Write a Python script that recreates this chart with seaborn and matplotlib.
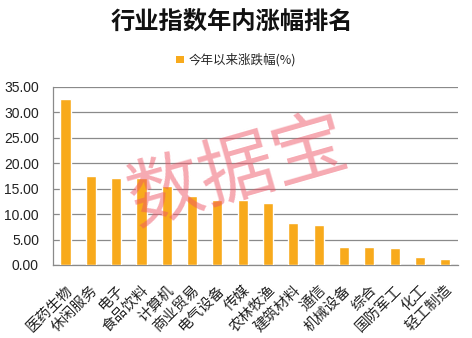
import matplotlib
matplotlib.use("Agg")
import matplotlib.pyplot as plt
import seaborn as sns
import pandas as pd
from matplotlib.patches import Patch

categories = ["医药生物", "休闲服务", "电子", "食品饮料", "计算机", "商业贸易", "电气设备", "传媒",
              "农林牧渔", "建筑材料", "通信", "机械设备", "综合", "国防军工", "化工", "轻工制造"]
values = [32.6, 17.5, 17.0, 17.0, 15.5, 13.6, 12.8, 12.8,
          12.2, 8.3, 7.9, 3.6, 3.6, 3.4, 1.6, 1.2]
series_name = "今年以来涨跌幅(%)"
yticks = [0, 5, 10, 15, 20, 25, 30, 35]

sns.set_theme(style="white")
plt.rcParams['font.family'] = ['Noto Sans CJK SC', 'DejaVu Sans']

df = pd.DataFrame({"cat": categories, "val": values})
bar_color = "#F8AA1C"

fig = plt.figure(figsize=(4.72, 3.38), dpi=100)
ax = fig.add_axes([0.112, 0.216, 0.858, 0.527])
sns.barplot(data=df, x="cat", y="val", color=bar_color, width=0.4,
            saturation=1, ax=ax, zorder=3)

ax.set_ylim(0, 35)
ax.set_xlim(-0.5, len(categories) - 0.5)
ax.set_yticks(yticks)
ax.set_yticklabels([f"{v:.2f}" for v in yticks], fontfamily="Liberation Sans", fontsize=10, color="#222222")
ax.yaxis.grid(True, color="#8a8a8a", linewidth=0.9, zorder=0)
ax.set_axisbelow(True)
ax.set_xlabel("")
ax.set_ylabel("")

for s in ["top", "right"]:
    ax.spines[s].set_visible(False)
for s in ["left", "bottom"]:
    ax.spines[s].set_color("#8a8a8a")
    ax.spines[s].set_linewidth(0.9)

ax.tick_params(axis="y", length=0, pad=10)
ax.set_xticks(range(len(categories)))
ax.set_xticklabels(categories, rotation=45, ha="right", rotation_mode="anchor",
                   fontsize=10.5, color="#222222")
ax.tick_params(axis="x", which="major", length=0, pad=13)
ax.set_xticks([i - 0.5 for i in range(len(categories) + 1)], minor=True)
ax.tick_params(axis="x", which="minor", length=4, color="#8a8a8a", width=0.9, direction="out")

fig.text(0.492, 0.932, "行业指数年内涨幅排名", ha="center", va="center",
         fontsize=17.5, fontweight="bold", color="#111111")

handles = [Patch(facecolor=bar_color, edgecolor="none", label=series_name)]
fig.legend(handles=handles, loc="center", bbox_to_anchor=(0.5, 0.822), frameon=False,
           fontsize=9, handlelength=0.6, handleheight=0.6, handletextpad=0.4)

fig.text(0.503, 0.49, "数据宝", ha="center", va="center", rotation=16,
         fontsize=54, color="#EE5566", alpha=0.5)

fig.savefig("out.png", dpi=100, facecolor="white")
